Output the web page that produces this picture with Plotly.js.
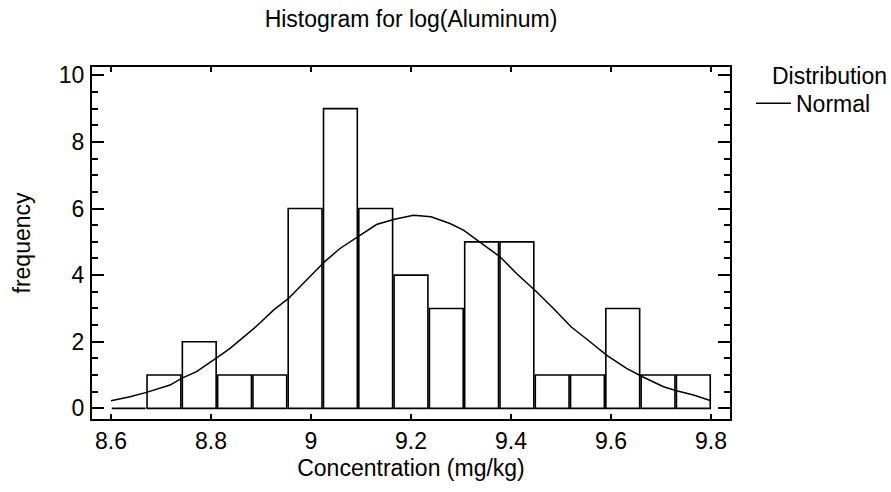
<!DOCTYPE html>
<html>
<head>
<meta charset="utf-8">
<script src="https://cdn.plot.ly/plotly-3.0.1.min.js"></script>
<style>html,body{margin:0;padding:0;background:#fff;}#chart{width:891px;height:492px;}</style>
</head>
<body>
<div id="chart"></div>
<script>
// Histogram bins (edges) and counts
const binEdges = [8.6, 8.6706, 8.7412, 8.8118, 8.8824, 8.9529, 9.0235, 9.0941, 9.1647,
                  9.2353, 9.3059, 9.3765, 9.4471, 9.5176, 9.5882, 9.6588, 9.7294, 9.8];
const binCounts = [0, 1, 2, 1, 1, 6, 9, 6, 4, 3, 5, 5, 1, 1, 3, 1, 1];

// Fitted normal curve
const curveX = [8.600, 8.638, 8.671, 8.718, 8.741, 8.771, 8.815, 8.838, 8.886, 8.925, 8.955, 8.991,
                9.027, 9.058, 9.098, 9.131, 9.167, 9.205, 9.240, 9.278, 9.305, 9.338, 9.378, 9.411,
                9.451, 9.485, 9.520, 9.558, 9.591, 9.631, 9.663, 9.705, 9.731, 9.765, 9.800];
const curveY = [0.23, 0.35, 0.48, 0.70, 0.90, 1.10, 1.55, 1.80, 2.40, 2.95, 3.30, 3.85,
                4.40, 4.80, 5.20, 5.52, 5.68, 5.80, 5.75, 5.55, 5.35, 5.00, 4.55, 4.05,
                3.50, 3.00, 2.45, 2.00, 1.60, 1.20, 0.95, 0.65, 0.53, 0.40, 0.23];

const xTickVals = [8.6, 8.8, 9.0, 9.2, 9.4, 9.6, 9.8];
const xTickText = ['8.6', '8.8', '9', '9.2', '9.4', '9.6', '9.8'];
const yTickVals = [0, 2, 4, 6, 8, 10];

const titleText = 'Histogram for log(Aluminum)';
const xTitle = 'Concentration (mg/kg)';
const yTitle = 'frequency';
const legendTitle = 'Distribution';
const curveName = 'Normal';

// derived
const GAP = 0.003;
const centers = [], widths = [], barY = [];
const zeroX = [], zeroY = [];
for (let i = 0; i < binCounts.length; i++) {
  const a = binEdges[i], b = binEdges[i + 1];
  if (binCounts[i] > 0) {
    centers.push((a + b) / 2);
    widths.push((b - a) - GAP);
    barY.push(binCounts[i]);
  } else {
    zeroX.push(a + GAP / 2, b - GAP / 2, null);
    zeroY.push(0, 0, null);
  }
}

const FONT = 'Liberation Sans, Arial, Helvetica, sans-serif';
const FS = 23;

const traces = [
  {
    type: 'bar', x: centers, y: barY, width: widths,
    marker: {color: '#ffffff', line: {color: '#000000', width: 1.6}},
    showlegend: false, hoverinfo: 'skip'
  },
  {
    type: 'scatter', mode: 'lines', x: zeroX, y: zeroY,
    line: {color: '#000000', width: 1.6}, showlegend: false, hoverinfo: 'skip'
  },
  {
    type: 'scatter', mode: 'lines', x: curveX, y: curveY, name: curveName,
    line: {color: '#000000', width: 1.5}
  }
];

const layout = {
  width: 891, height: 492,
  paper_bgcolor: '#ffffff', plot_bgcolor: '#ffffff',
  font: {family: FONT, size: FS, color: '#000000'},
  margin: {l: 92, r: 161, t: 67, b: 73, pad: 0},
  title: {text: titleText, x: 0.5, xref: 'paper', xanchor: 'center', y: 1 - 19 / 492, yanchor: 'middle',
          font: {family: FONT, size: FS, color: '#000'}},
  bargap: 0.01,
  xaxis: {
    range: [8.562, 9.838], tickmode: 'array', tickvals: xTickVals, ticktext: xTickText,
    ticks: 'inside', ticklen: 5, tickwidth: 2, tickcolor: '#000',
    showline: true, linewidth: 2, linecolor: '#000', mirror: 'ticks',
    showgrid: false, zeroline: false, ticklabelstandoff: 0,
    tickfont: {family: FONT, size: FS},
    title: {text: xTitle, font: {family: FONT, size: FS}, standoff: 7}
  },
  yaxis: {
    range: [-0.32, 10.25], tickmode: 'array', tickvals: yTickVals,
    ticks: 'inside', ticklen: 12, tickwidth: 2, tickcolor: '#000',
    minor: {dtick: 0.5, tick0: 0, ticks: 'inside', ticklen: 6, tickwidth: 2, tickcolor: '#000', showgrid: false},
    showline: true, linewidth: 2, linecolor: '#000', mirror: 'ticks',
    showgrid: false, zeroline: false, ticklabelstandoff: 1,
    tickfont: {family: FONT, size: FS},
    title: {text: yTitle, font: {family: FONT, size: FS}, standoff: 22}
  },
  showlegend: true,
  legend: {
    x: (751 - 92) / 638, xanchor: 'left', y: 0.958, yanchor: 'top',
    itemwidth: 35, font: {family: FONT, size: FS}, bgcolor: 'rgba(0,0,0,0)',
    borderwidth: 0, tracegroupgap: 0
  },
  annotations: [
    {text: legendTitle, xref: 'paper', yref: 'paper', x: (770 - 92) / 638, y: 1 - (76 - 67) / 352,
     xanchor: 'left', yanchor: 'middle', showarrow: false, font: {family: FONT, size: FS}}
  ]
};

Plotly.newPlot('chart', traces, layout, {staticPlot: true, displayModeBar: false});
</script>
</body>
</html>
